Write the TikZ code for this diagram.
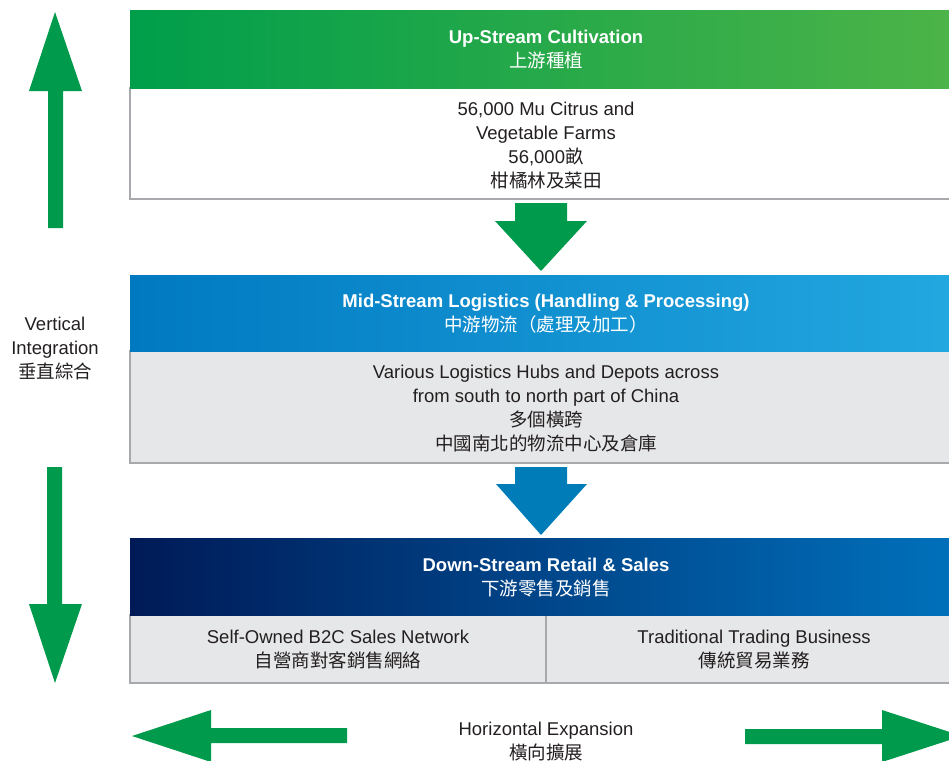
\documentclass[tikz,border=0pt]{standalone}
\usepackage{fontspec}
\setmainfont{Liberation Sans}
\newfontfamily\cjk{Noto Sans CJK TC}
\usepackage{tikz}
\definecolor{arrowgreen}{RGB}{0,154,76}
\definecolor{upleft}{RGB}{0,158,75}
\definecolor{upright}{RGB}{77,180,72}
\definecolor{midleft}{RGB}{0,121,193}
\definecolor{midright}{RGB}{35,168,224}
\definecolor{arrowblue}{RGB}{0,125,184}
\definecolor{downleft}{RGB}{0,26,87}
\definecolor{downright}{RGB}{0,113,188}
\definecolor{cellgray}{RGB}{230,231,232}
\definecolor{edgegray}{RGB}{167,169,172}
\definecolor{bodyink}{RGB}{35,31,32}
\tikzset{
  headtext/.style={text=white, align=center, font=\fontsize{18.5}{24}\selectfont},
  bodytext/.style={text=bodyink, align=center, font=\fontsize{18.5}{24}\selectfont},
  cellbox/.style={draw=edgegray, line width=1.2pt},
}

\begin{document}
\begin{tikzpicture}[x=1pt,y=-1pt]
    \useasboundingbox (0,0) rectangle (949,760);
    \clip (0,0) rectangle (949,760);
    % up-stream block
    \draw[cellbox, fill=white] (130,88) rectangle (960,199);
    \shade[left color=upleft, middle color=upleft, right color=upright] (130,11) rectangle (960,88);
    \node[headtext] (upHead) at (546,50) {\bfseries Up-Stream Cultivation\\{\cjk 上游種植}};
    \node[bodytext] (upBody) at (546,146) {56,000 Mu Citrus and\\Vegetable Farms\\56,000{\cjk 畝}\\{\cjk 柑橘林及菜田}};
    % mid-stream block
    \draw[cellbox, fill=cellgray] (130,351) rectangle (960,463);
    \shade[left color=midleft, middle color=midleft!70!midright, right color=midright] (130,275) rectangle (960,351);
    \node[headtext] (midHead) at (546,314) {\bfseries Mid-Stream Logistics (Handling \& Processing)\\{\cjk 中游物流（處理及加工）}};
    \node[bodytext] (midBody) at (546,409) {Various Logistics Hubs and Depots across\\from south to north part of China\\{\cjk 多個橫跨}\\{\cjk 中國南北的物流中心及倉庫}};
    % down-stream block
    \draw[cellbox, fill=cellgray] (130,615) rectangle (960,683);
    \draw[cellbox] (546,615) -- (546,683);
    \shade[left color=downleft, right color=downright] (130,538) rectangle (960,615);
    \node[headtext] (downHead) at (546,578) {\bfseries Down-Stream Retail \& Sales\\{\cjk 下游零售及銷售}};
    \node[bodytext] (selfOwned) at (338,650) {Self-Owned B2C Sales Network\\{\cjk 自營商對客銷售網絡}};
    \node[bodytext] (tradBiz) at (754,650) {Traditional Trading Business\\{\cjk 傳統貿易業務}};
    % arrows between the blocks
    \fill[arrowgreen] (515,203) -- (567,203) -- (567,221) -- (587,221) -- (541,271) -- (495,221) -- (515,221) -- cycle;
    \fill[arrowblue] (515,467) -- (567,467) -- (567,484) -- (587,484) -- (541,535) -- (496,484) -- (515,484) -- cycle;
    % vertical integration
    \fill[arrowgreen] (55,12) -- (82,91) -- (63,91) -- (63,228) -- (48,228) -- (48,91) -- (29,91) -- cycle;
    \fill[arrowgreen] (47,467) -- (62,467) -- (62,604) -- (82,604) -- (55,683) -- (29,604) -- (47,604) -- cycle;
    \node[bodytext] (vertLabel) at (55,349) {Vertical\\Integration\\{\cjk 垂直綜合}};
    % horizontal expansion
    \fill[arrowgreen] (132,736) -- (211,710) -- (211,728) -- (347,728) -- (347,743) -- (211,743) -- (211,762) -- cycle;
    \fill[arrowgreen] (745,729) -- (882,729) -- (882,710) -- (962,736) -- (882,762) -- (882,744) -- (745,744) -- cycle;
    \node[bodytext] (horizLabel) at (546,742) {Horizontal Expansion\\{\cjk 橫向擴展}};
\end{tikzpicture}
\end{document}
